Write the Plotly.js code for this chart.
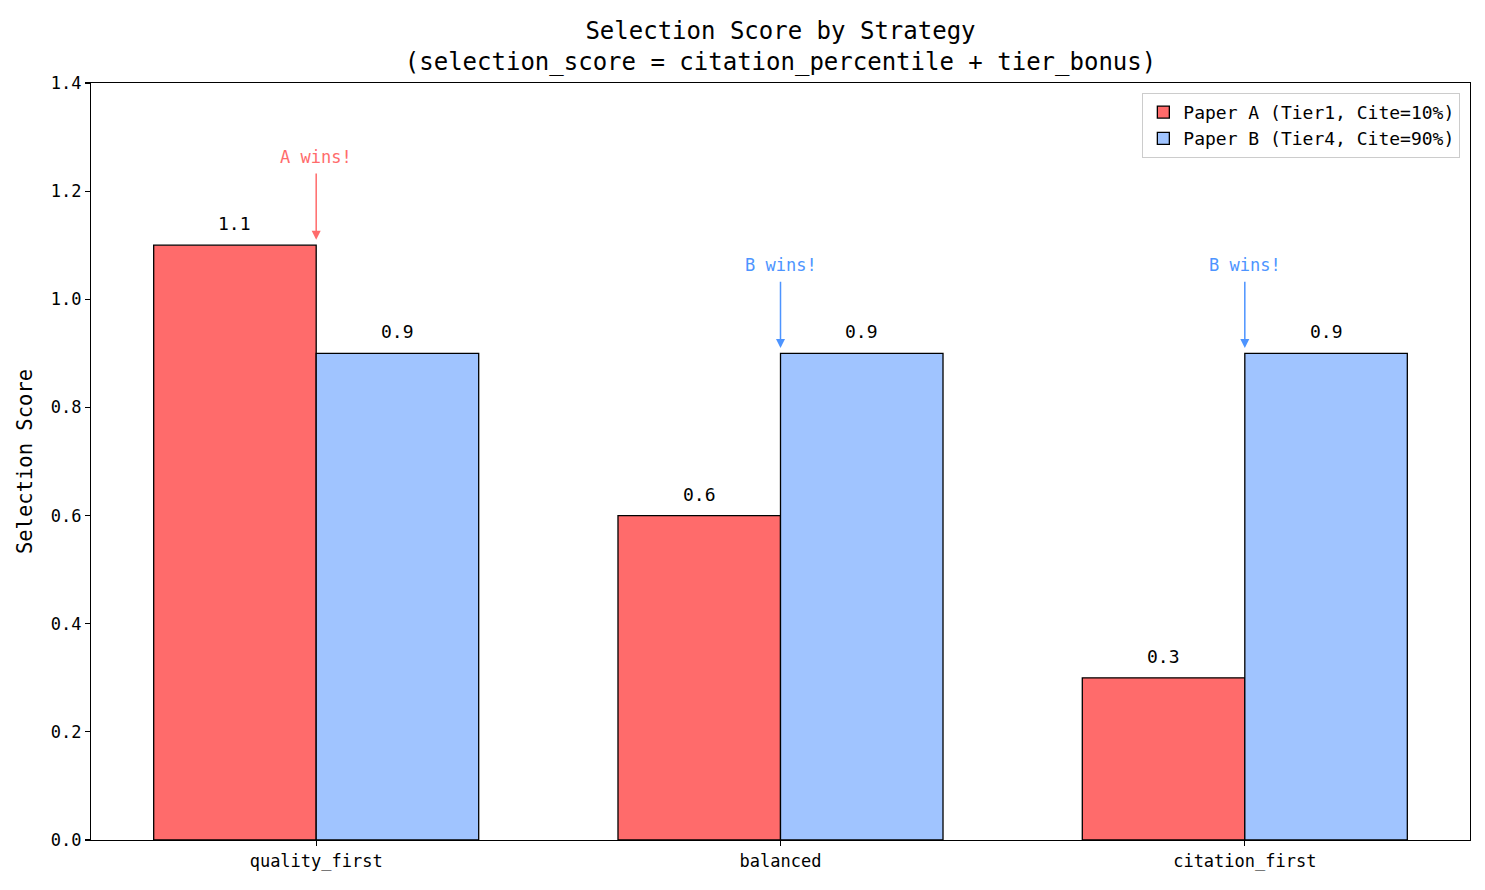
<!DOCTYPE html>
<html>
<head>
<meta charset="utf-8">
<script src="https://cdn.plot.ly/plotly-3.0.1.min.js"></script>
<style>html,body{margin:0;padding:0;background:#fff;}#chart{width:1485px;height:890px;}</style>
</head>
<body>
<div id="chart"></div>
<script>
const strategies = ["quality_first", "balanced", "citation_first"];
const paperA = [1.1, 0.6, 0.3];
const paperB = [0.9, 0.9, 0.9];
const nameA = "Paper A (Tier1, Cite=10%)";
const nameB = "Paper B (Tier4, Cite=90%)";
const winners = ["A", "B", "B"];

const FONT = "DejaVu Sans Mono, Liberation Mono, monospace";
const RED = "#ff6b6b", BLUE = "#a0c4ff";
const RED_TXT = "#ff6b6b", BLUE_TXT = "#4d94ff";
const idx = strategies.map((_, i) => i);

const traces = [
  {type: "bar", name: nameA, x: idx, y: paperA,
   marker: {color: RED, line: {color: "#000", width: 1.3}}},
  {type: "bar", name: nameB, x: idx, y: paperB,
   marker: {color: BLUE, line: {color: "#000", width: 1.3}}}
];

const annotations = [];
const W = 0.35;
idx.forEach(i => {
  annotations.push({x: i - W/2, y: paperA[i], xref: "x", yref: "y", text: paperA[i].toFixed(1),
    showarrow: false, yanchor: "bottom", yshift: 9, font: {family: FONT, size: 18, color: "#000"}});
  annotations.push({x: i + W/2, y: paperB[i], xref: "x", yref: "y", text: paperB[i].toFixed(1),
    showarrow: false, yanchor: "bottom", yshift: 9, font: {family: FONT, size: 18, color: "#000"}});
  const w = winners[i];
  const v = w === "A" ? paperA[i] : paperB[i];
  const col = w === "A" ? RED_TXT : BLUE_TXT;
  annotations.push({x: i, y: v + 0.01, xref: "x", yref: "y",
    ax: i, ay: v + 0.163, axref: "x", ayref: "y",
    text: w + " wins!", showarrow: true, arrowhead: 2, arrowsize: 1.2, arrowwidth: 1.5,
    arrowcolor: col, startstandoff: 5, font: {family: FONT, size: 17, color: col}});
});

const layout = {
  width: 1485, height: 890,
  margin: {l: 91, r: 15, t: 83, b: 50},
  paper_bgcolor: "#fff", plot_bgcolor: "#fff",
  font: {family: FONT, size: 17, color: "#000"},
  title: {text: "Selection Score by Strategy<br>(selection_score = citation_percentile + tier_bonus)",
    font: {family: FONT, size: 24, color: "#000"}, x: 0.5, xref: "paper",
    y: 1 - 39/890, yref: "container", yanchor: "top"},
  barmode: "group", bargap: 0.3, bargroupgap: 0,
  xaxis: {range: [-0.485, 2.485], tickvals: idx, ticktext: strategies,
    showgrid: false, zeroline: false, showline: true, linecolor: "#000", linewidth: 1.2, mirror: true,
    ticks: "outside", ticklen: 5, tickwidth: 1.2, tickcolor: "#000",
    tickfont: {family: FONT, size: 17, color: "#000"}},
  yaxis: {range: [0, 1.4], dtick: 0.2, tickformat: ".1f",
    showgrid: false, zeroline: false, showline: true, linecolor: "#000", linewidth: 1.2, mirror: true,
    ticks: "outside", ticklen: 5, tickwidth: 1.2, tickcolor: "#000",
    tickfont: {family: FONT, size: 17, color: "#000"},
    title: {text: "Selection Score", font: {family: FONT, size: 20.5, color: "#000"}, standoff: 12}},
  legend: {x: 0.993, y: 0.987, xanchor: "right", yanchor: "top",
    bgcolor: "#fff", bordercolor: "#cccccc", borderwidth: 1,
    font: {family: FONT, size: 18, color: "#000"}},
  showlegend: true,
  annotations: annotations
};

Plotly.newPlot("chart", traces, layout, {displayModeBar: false, staticPlot: true});
</script>
</body>
</html>
